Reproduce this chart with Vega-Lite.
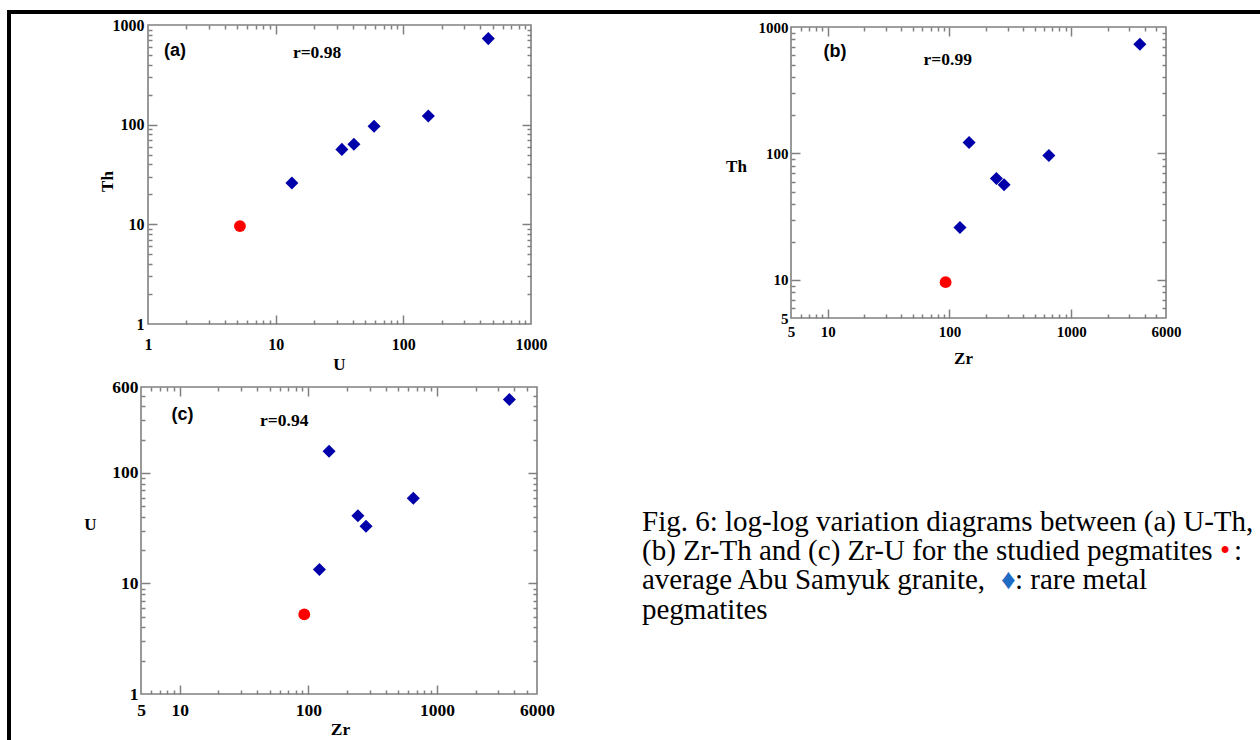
{
  "$schema": "https://vega.github.io/schema/vega-lite/v6.json",
  "padding": {"left": 6, "top": 9, "right": 0, "bottom": 0},
  "autosize": {"type": "pad"},
  "background": "white",
  "config": {
    "view": {"stroke": null},
    "font": "Liberation Serif",
    "axis": {
      "labelFont": "Liberation Serif", "labelFontWeight": "bold", "labelColor": "#000",
      "titleFont": "Liberation Serif", "titleFontWeight": "bold", "titleColor": "#000",
      "grid": false, "domain": false, "labelFlush": false, "labelOverlap": false, "labelBound": false,
      "tickColor": "#808080", "tickWidth": 1.5
    }
  },
  "datasets": {
    "samples": [
      {"group": "granite", "Zr": 93, "U": 5.25, "Th": 9.6},
      {"group": "pegmatite", "Zr": 122, "U": 13.4, "Th": 26},
      {"group": "pegmatite", "Zr": 145, "U": 157, "Th": 122},
      {"group": "pegmatite", "Zr": 243, "U": 41, "Th": 63.5},
      {"group": "pegmatite", "Zr": 281, "U": 33, "Th": 56.5},
      {"group": "pegmatite", "Zr": 655, "U": 59, "Th": 96.5},
      {"group": "pegmatite", "Zr": 3660, "U": 463, "Th": 730}
    ],
    "caption": [
      {"line": 1, "part": "main", "text": "Fig. 6: log-log variation diagrams between (a) U-Th,"},
      {"line": 2, "part": "main", "text": "(b) Zr-Th and (c) Zr-U for the studied pegmatites"},
      {"line": 2, "part": "dot", "text": "•"},
      {"line": 2, "part": "after", "text": ":"},
      {"line": 3, "part": "main", "text": "average Abu Samyuk granite,"},
      {"line": 3, "part": "diamond", "text": "♦"},
      {"line": 3, "part": "rest", "text": ": rare metal"},
      {"line": 4, "part": "main", "text": "pegmatites"}
    ],
    "blank": [{}]
  },
  "spacing": 0,
  "bounds": "flush",
  "hconcat": [
    {"width": 4, "height": 730.5, "view": {"fill": "#000000", "stroke": null}, "data": {"name": "blank"}, "mark": {"type": "point", "opacity": 0}, "encoding": {}},
    {
      "spacing": 0,
      "bounds": "flush",
      "vconcat": [
        {"width": 1249.5, "height": 4, "view": {"fill": "#000000", "stroke": null}, "data": {"name": "blank"}, "mark": {"type": "point", "opacity": 0}, "encoding": {}},
        {"width": 1, "height": 11, "data": {"name": "blank"}, "mark": {"type": "point", "opacity": 0}, "encoding": {}},
        {
          "spacing": 0,
          "bounds": "flush",
          "hconcat": [
            {"width": 137, "height": 1, "data": {"name": "blank"}, "mark": {"type": "point", "opacity": 0}, "encoding": {}},
            {
              "width": 383, "height": 299,
              "view": {"stroke": "#808080", "strokeWidth": 1.6},
              "data": {"name": "samples"},
              "resolve": {"axis": {"x": "independent", "y": "independent"}},
              "layer": [
                {
                  "mark": {"type": "point", "filled": true, "opacity": 1},
                  "encoding": {
                    "x": {"field": "U", "type": "quantitative", "scale": {"type": "log", "domain": [1, 1000], "nice": false},
                      "axis": {"orient": "bottom", "values": [1, 10, 100, 1000], "format": "d", "ticks": false, "labelPadding": 12, "labelFontSize": 16,
                        "title": "U", "titleX": 191, "titleY": 40, "titleAngle": 0, "titleAlign": "center", "titleBaseline": "middle", "titleFontSize": 17}},
                    "y": {"field": "Th", "type": "quantitative", "scale": {"type": "log", "domain": [1, 1000], "nice": false},
                      "axis": {"orient": "left", "values": [1, 10, 100, 1000], "format": "d", "ticks": false, "labelPadding": 4, "labelFontSize": 16,
                        "title": "Th", "titleX": -41, "titleY": 156, "titleAngle": 270, "titleAlign": "center", "titleBaseline": "middle", "titleFontSize": 17}},
                    "shape": {"field": "group", "type": "nominal", "scale": {"domain": ["granite", "pegmatite"], "range": ["circle", "diamond"]}, "legend": null},
                    "color": {"field": "group", "type": "nominal", "scale": {"domain": ["granite", "pegmatite"], "range": ["#ff0000", "#0000aa"]}, "legend": null},
                    "size": {"field": "group", "type": "nominal", "scale": {"domain": ["granite", "pegmatite"], "range": [140, 170]}, "legend": null}
                  }
                },
                {
                  "mark": {"type": "point", "opacity": 0},
                  "encoding": {
                    "x": {"field": "U", "type": "quantitative", "axis": {"orient": "bottom", "values": [10, 100], "labels": false, "tickSize": -9, "title": null}},
                    "y": {"field": "Th", "type": "quantitative", "axis": {"orient": "left", "values": [10, 100], "labels": false, "tickSize": -9, "title": null}}
                  }
                },
                {
                  "mark": {"type": "point", "opacity": 0},
                  "encoding": {
                    "x": {"field": "U", "type": "quantitative", "axis": {"orient": "bottom", "values": [2,3,4,5,6,7,8,9,20,30,40,50,60,70,80,90,200,300,400,500,600,700,800,900], "labels": false, "tickSize": -4, "title": null}},
                    "y": {"field": "Th", "type": "quantitative", "axis": {"orient": "left", "values": [2,3,4,5,6,7,8,9,20,30,40,50,60,70,80,90,200,300,400,500,600,700,800,900], "labels": false, "tickSize": -4, "title": null}}
                  }
                },
                {
                  "mark": {"type": "point", "opacity": 0},
                  "encoding": {
                    "x": {"field": "U", "type": "quantitative", "axis": {"orient": "top", "values": [10, 100], "labels": false, "tickSize": -9, "title": null}},
                    "y": {"field": "Th", "type": "quantitative", "axis": {"orient": "right", "values": [10, 100], "labels": false, "tickSize": -9, "title": null}}
                  }
                },
                {
                  "mark": {"type": "point", "opacity": 0},
                  "encoding": {
                    "x": {"field": "U", "type": "quantitative", "axis": {"orient": "top", "values": [2,3,4,5,6,7,8,9,20,30,40,50,60,70,80,90,200,300,400,500,600,700,800,900], "labels": false, "tickSize": -4, "title": null}},
                    "y": {"field": "Th", "type": "quantitative", "axis": {"orient": "right", "values": [2,3,4,5,6,7,8,9,20,30,40,50,60,70,80,90,200,300,400,500,600,700,800,900], "labels": false, "tickSize": -4, "title": null}}
                  }
                },
                {
                  "data": {"name": "blank"},
                  "mark": {"type": "text", "text": "(a)", "font": "Liberation Sans", "fontWeight": "bold", "fontSize": 18, "align": "center", "baseline": "middle"},
                  "encoding": {"x": {"datum": 1.63, "type": "quantitative", "axis": null}, "y": {"datum": 548, "type": "quantitative", "axis": null}}
                },
                {
                  "data": {"name": "blank"},
                  "mark": {"type": "text", "text": "r=0.98", "font": "Liberation Serif", "fontWeight": "bold", "fontSize": 17.5, "align": "center", "baseline": "middle"},
                  "encoding": {"x": {"datum": 21.1, "type": "quantitative", "axis": null}, "y": {"datum": 524, "type": "quantitative", "axis": null}}
                }
              ]
            },
            {"width": 260, "height": 1, "data": {"name": "blank"}, "mark": {"type": "point", "opacity": 0}, "encoding": {}},
            {
              "spacing": 0,
              "bounds": "flush",
              "vconcat": [
                {"width": 375, "height": 2, "data": {"name": "blank"}, "mark": {"type": "point", "opacity": 0}, "encoding": {}},
                {
                  "width": 375, "height": 291,
                  "view": {"stroke": "#808080", "strokeWidth": 1.6},
                  "data": {"name": "samples"},
                  "resolve": {"axis": {"x": "independent", "y": "independent"}},
                  "layer": [
                    {
                      "mark": {"type": "point", "filled": true, "opacity": 1},
                      "encoding": {
                        "x": {"field": "Zr", "type": "quantitative", "scale": {"type": "log", "domain": [5, 6000], "nice": false},
                          "axis": {"orient": "bottom", "values": [5, 10, 100, 1000, 6000], "format": "d", "ticks": false, "labelPadding": 6, "labelFontSize": 15,
                            "title": "Zr", "titleX": 172, "titleY": 40, "titleAngle": 0, "titleAlign": "center", "titleBaseline": "middle", "titleFontSize": 17}},
                        "y": {"field": "Th", "type": "quantitative", "scale": {"type": "log", "domain": [5, 1000], "nice": false},
                          "axis": {"orient": "left", "values": [5, 10, 100, 1000], "format": "d", "ticks": false, "labelPadding": 3, "labelFontSize": 15,
                            "title": "Th", "titleX": -55, "titleY": 139, "titleAngle": 0, "titleAlign": "center", "titleBaseline": "middle", "titleFontSize": 17}},
                        "shape": {"field": "group", "type": "nominal", "scale": {"domain": ["granite", "pegmatite"], "range": ["circle", "diamond"]}, "legend": null},
                        "color": {"field": "group", "type": "nominal", "scale": {"domain": ["granite", "pegmatite"], "range": ["#ff0000", "#0000aa"]}, "legend": null},
                        "size": {"field": "group", "type": "nominal", "scale": {"domain": ["granite", "pegmatite"], "range": [140, 170]}, "legend": null}
                      }
                    },
                    {
                      "mark": {"type": "point", "opacity": 0},
                      "encoding": {
                        "x": {"field": "Zr", "type": "quantitative", "axis": {"orient": "bottom", "values": [10, 100, 1000], "labels": false, "tickSize": -9, "title": null}},
                        "y": {"field": "Th", "type": "quantitative", "axis": {"orient": "left", "values": [10, 100], "labels": false, "tickSize": -9, "title": null}}
                      }
                    },
                    {
                      "mark": {"type": "point", "opacity": 0},
                      "encoding": {
                        "x": {"field": "Zr", "type": "quantitative", "axis": {"orient": "bottom", "values": [6,7,8,9,20,30,40,50,60,70,80,90,200,300,400,500,600,700,800,900,2000,3000,4000,5000], "labels": false, "tickSize": -4, "title": null}},
                        "y": {"field": "Th", "type": "quantitative", "axis": {"orient": "left", "values": [6,7,8,9,20,30,40,50,60,70,80,90,200,300,400,500,600,700,800,900], "labels": false, "tickSize": -4, "title": null}}
                      }
                    },
                    {
                      "mark": {"type": "point", "opacity": 0},
                      "encoding": {
                        "x": {"field": "Zr", "type": "quantitative", "axis": {"orient": "top", "values": [10, 100, 1000], "labels": false, "tickSize": -9, "title": null}},
                        "y": {"field": "Th", "type": "quantitative", "axis": {"orient": "right", "values": [10, 100], "labels": false, "tickSize": -9, "title": null}}
                      }
                    },
                    {
                      "mark": {"type": "point", "opacity": 0},
                      "encoding": {
                        "x": {"field": "Zr", "type": "quantitative", "axis": {"orient": "top", "values": [6,7,8,9,20,30,40,50,60,70,80,90,200,300,400,500,600,700,800,900,2000,3000,4000,5000], "labels": false, "tickSize": -4, "title": null}},
                        "y": {"field": "Th", "type": "quantitative", "axis": {"orient": "right", "values": [6,7,8,9,20,30,40,50,60,70,80,90,200,300,400,500,600,700,800,900], "labels": false, "tickSize": -4, "title": null}}
                      }
                    },
                    {
                      "data": {"name": "blank"},
                      "mark": {"type": "text", "text": "(b)", "font": "Liberation Sans", "fontWeight": "bold", "fontSize": 18, "align": "center", "baseline": "middle"},
                      "encoding": {"x": {"datum": 11.5, "type": "quantitative", "axis": null}, "y": {"datum": 633, "type": "quantitative", "axis": null}}
                    },
                    {
                      "data": {"name": "blank"},
                      "mark": {"type": "text", "text": "r=0.99", "font": "Liberation Serif", "fontWeight": "bold", "fontSize": 17.5, "align": "center", "baseline": "middle"},
                      "encoding": {"x": {"datum": 96.8, "type": "quantitative", "axis": null}, "y": {"datum": 548, "type": "quantitative", "axis": null}}
                    }
                  ]
                }
              ]
            }
          ]
        },
        {"width": 1, "height": 362, "data": {"name": "blank"}, "mark": {"type": "point", "opacity": 0}, "encoding": {}},
        {
          "spacing": 0,
          "bounds": "flush",
          "hconcat": [
            {"width": 130, "height": 1, "data": {"name": "blank"}, "mark": {"type": "point", "opacity": 0}, "encoding": {}},
            {
              "width": 396, "height": 307,
              "view": {"stroke": "#808080", "strokeWidth": 1.6},
              "data": {"name": "samples"},
              "resolve": {"axis": {"x": "independent", "y": "independent"}},
              "layer": [
                {
                  "mark": {"type": "point", "filled": true, "opacity": 1},
                  "encoding": {
                    "x": {"field": "Zr", "type": "quantitative", "scale": {"type": "log", "domain": [5, 6000], "nice": false},
                      "axis": {"orient": "bottom", "values": [5, 10, 100, 1000, 6000], "format": "d", "ticks": false, "labelPadding": 7, "labelFontSize": 17.5,
                        "title": "Zr", "titleX": 199, "titleY": 35, "titleAngle": 0, "titleAlign": "center", "titleBaseline": "middle", "titleFontSize": 17.5}},
                    "y": {"field": "U", "type": "quantitative", "scale": {"type": "log", "domain": [1, 600], "nice": false},
                      "axis": {"orient": "left", "values": [1, 10, 100, 600], "format": "d", "ticks": false, "labelPadding": 3, "labelFontSize": 17.5,
                        "title": "U", "titleX": -51, "titleY": 137, "titleAngle": 0, "titleAlign": "center", "titleBaseline": "middle", "titleFontSize": 17}},
                    "shape": {"field": "group", "type": "nominal", "scale": {"domain": ["granite", "pegmatite"], "range": ["circle", "diamond"]}, "legend": null},
                    "color": {"field": "group", "type": "nominal", "scale": {"domain": ["granite", "pegmatite"], "range": ["#ff0000", "#0000aa"]}, "legend": null},
                    "size": {"field": "group", "type": "nominal", "scale": {"domain": ["granite", "pegmatite"], "range": [140, 170]}, "legend": null}
                  }
                },
                {
                  "mark": {"type": "point", "opacity": 0},
                  "encoding": {
                    "x": {"field": "Zr", "type": "quantitative", "axis": {"orient": "bottom", "values": [10, 100, 1000], "labels": false, "tickSize": -9, "title": null}},
                    "y": {"field": "U", "type": "quantitative", "axis": {"orient": "left", "values": [10, 100], "labels": false, "tickSize": -9, "title": null}}
                  }
                },
                {
                  "mark": {"type": "point", "opacity": 0},
                  "encoding": {
                    "x": {"field": "Zr", "type": "quantitative", "axis": {"orient": "bottom", "values": [6,7,8,9,20,30,40,50,60,70,80,90,200,300,400,500,600,700,800,900,2000,3000,4000,5000], "labels": false, "tickSize": -4, "title": null}},
                    "y": {"field": "U", "type": "quantitative", "axis": {"orient": "left", "values": [2,3,4,5,6,7,8,9,20,30,40,50,60,70,80,90,200,300,400,500], "labels": false, "tickSize": -4, "title": null}}
                  }
                },
                {
                  "mark": {"type": "point", "opacity": 0},
                  "encoding": {
                    "x": {"field": "Zr", "type": "quantitative", "axis": {"orient": "top", "values": [10, 100, 1000], "labels": false, "tickSize": -9, "title": null}},
                    "y": {"field": "U", "type": "quantitative", "axis": {"orient": "right", "values": [10, 100], "labels": false, "tickSize": -9, "title": null}}
                  }
                },
                {
                  "mark": {"type": "point", "opacity": 0},
                  "encoding": {
                    "x": {"field": "Zr", "type": "quantitative", "axis": {"orient": "top", "values": [6,7,8,9,20,30,40,50,60,70,80,90,200,300,400,500,600,700,800,900,2000,3000,4000,5000], "labels": false, "tickSize": -4, "title": null}},
                    "y": {"field": "U", "type": "quantitative", "axis": {"orient": "right", "values": [2,3,4,5,6,7,8,9,20,30,40,50,60,70,80,90,200,300,400,500], "labels": false, "tickSize": -4, "title": null}}
                  }
                },
                {
                  "data": {"name": "blank"},
                  "mark": {"type": "text", "text": "(c)", "font": "Liberation Sans", "fontWeight": "bold", "fontSize": 18, "align": "center", "baseline": "middle"},
                  "encoding": {"x": {"datum": 10.5, "type": "quantitative", "axis": null}, "y": {"datum": 338, "type": "quantitative", "axis": null}}
                },
                {
                  "data": {"name": "blank"},
                  "mark": {"type": "text", "text": "r=0.94", "font": "Liberation Serif", "fontWeight": "bold", "fontSize": 17.5, "align": "center", "baseline": "middle"},
                  "encoding": {"x": {"datum": 65, "type": "quantitative", "axis": null}, "y": {"datum": 295, "type": "quantitative", "axis": null}}
                }
              ]
            },
            {"width": 105, "height": 1, "data": {"name": "blank"}, "mark": {"type": "point", "opacity": 0}, "encoding": {}},
            {
              "spacing": 0,
              "bounds": "flush",
              "vconcat": [
                {"width": 618, "height": 128.35, "data": {"name": "blank"}, "mark": {"type": "point", "opacity": 0}, "encoding": {}},
                {
                  "width": 618, "height": 117.2,
                  "data": {"name": "caption"},
                  "encoding": {
                    "x": {"datum": 0, "type": "quantitative", "scale": {"domain": [0, 1]}, "axis": null},
                    "y": {"field": "line", "type": "ordinal", "scale": {"domain": [1, 2, 3, 4], "padding": 0.5}, "axis": null},
                    "text": {"field": "text"}
                  },
                  "layer": [
                    {"transform": [{"filter": "datum.part == 'main'"}], "mark": {"type": "text", "align": "left", "baseline": "alphabetic", "font": "Liberation Serif", "fontSize": 29, "color": "#000000"}},
                    {"transform": [{"filter": "datum.part == 'dot'"}], "mark": {"type": "text", "align": "left", "baseline": "alphabetic", "font": "Liberation Serif", "fontSize": 29, "color": "#ff0000", "dx": 578}},
                    {"transform": [{"filter": "datum.part == 'after'"}], "mark": {"type": "text", "align": "left", "baseline": "alphabetic", "font": "Liberation Serif", "fontSize": 29, "color": "#000000", "dx": 592}},
                    {"transform": [{"filter": "datum.part == 'diamond'"}], "mark": {"type": "text", "align": "left", "baseline": "alphabetic", "font": "Liberation Serif", "fontSize": 29, "color": "#1f6bc4", "dx": 359}},
                    {"transform": [{"filter": "datum.part == 'rest'"}], "mark": {"type": "text", "align": "left", "baseline": "alphabetic", "font": "Liberation Serif", "fontSize": 29, "color": "#000000", "dx": 373}}
                  ]
                }
              ]
            }
          ]
        }
      ]
    }
  ]
}
